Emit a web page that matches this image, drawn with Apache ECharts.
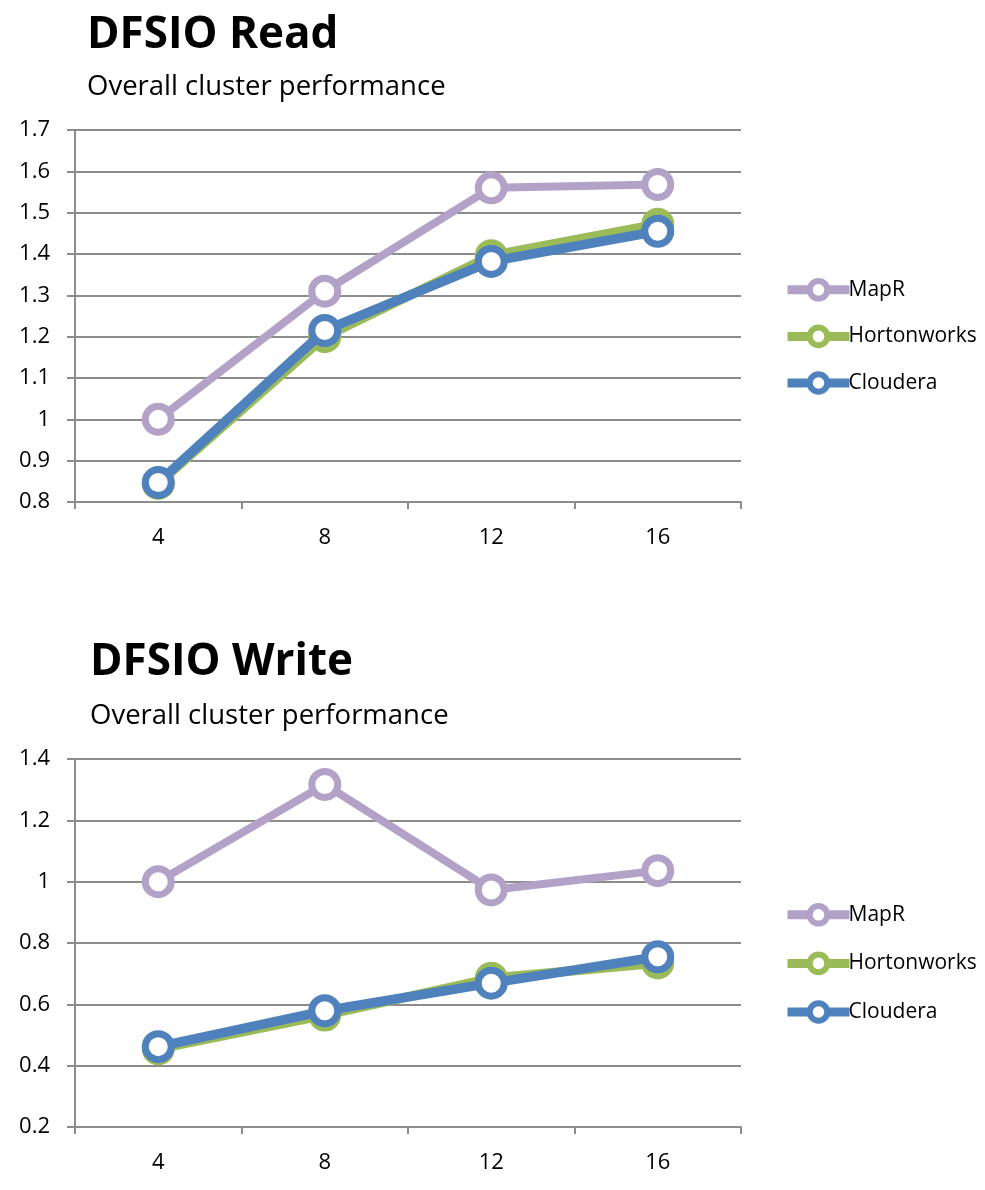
<!DOCTYPE html>
<html>
<head>
<meta charset="utf-8">
<script src="https://cdn.jsdelivr.net/npm/echarts@6/dist/echarts.min.js"></script>
<style>
html,body{margin:0;padding:0;background:#fff;}
#main{width:985px;height:1190px;}
</style>
</head>
<body>
<div id="main"></div>
<script>
var categories = ['4', '8', '12', '16'];
var seriesNames = ['MapR', 'Hortonworks', 'Cloudera'];

var readMapR = [1.0, 1.31, 1.56, 1.568];
var readHortonworks = [0.845, 1.2, 1.396, 1.472];
var readCloudera = [0.847, 1.215, 1.382, 1.455];

var writeMapR = [1.0, 1.317, 0.973, 1.036];
var writeHortonworks = [0.455, 0.565, 0.685, 0.735];
var writeCloudera = [0.462, 0.579, 0.669, 0.755];

var readTicks = {min: 0.8, max: 1.7, interval: 0.1};
var writeTicks = {min: 0.2, max: 1.4, interval: 0.2};

var colors = {MapR: '#B3A2C7', Hortonworks: '#9BBB59', Cloudera: '#4F81BD'};
var FONT = 'Open Sans';

function mkSeries(name, data, idx) {
  return {
    name: name, type: 'line', data: data,
    xAxisIndex: idx, yAxisIndex: idx,
    symbol: 'circle', symbolSize: 26,
    lineStyle: {color: colors[name], width: name === 'MapR' ? 8 : 9.5},
    itemStyle: {color: '#fff', borderColor: colors[name], borderWidth: 7},
    emphasis: {disabled: true},
    animation: false,
    z: name === 'Cloudera' ? 4 : (name === 'Hortonworks' ? 3 : 2)
  };
}

function mkX(idx) {
  return {
    type: 'category', gridIndex: idx, data: categories, boundaryGap: true,
    axisLine: {lineStyle: {color: '#8c8c8c', width: 2}},
    axisTick: {show: true, length: 7, interval: 0, lineStyle: {color: '#8c8c8c', width: 2}},
    axisLabel: {color: '#000', fontSize: 22, fontFamily: FONT, margin: 25},
    splitLine: {show: false}
  };
}
function mkY(idx, t) {
  return {
    type: 'value', gridIndex: idx, min: t.min, max: t.max, interval: t.interval,
    axisLine: {show: true, lineStyle: {color: '#8c8c8c', width: 2}},
    axisTick: {show: true, length: 8, lineStyle: {color: '#8c8c8c', width: 2}},
    axisLabel: {color: '#000', fontSize: 22, fontFamily: FONT, margin: 25,
      formatter: function (v) { return String(Math.round(v * 10) / 10); }},
    splitLine: {show: true, lineStyle: {color: '#8c8c8c', width: 2}}
  };
}
function mkLegend(top, gap) {
  return {
    data: seriesNames, orient: 'vertical', left: 778, top: top,
    itemWidth: 62, itemHeight: 22, itemGap: gap,
    lineStyle: {width: 9},
    itemStyle: {borderWidth: 6},
    textStyle: {fontFamily: FONT, fontSize: 21, color: '#000', padding: [0, 0, 0, -6]},
    selectedMode: false
  };
}

var chart = echarts.init(document.getElementById('main'), null, {renderer: 'canvas'});
chart.setOption({
  backgroundColor: '#fff',
  animation: false,
  title: [
    {text: 'DFSIO Read', left: 82, top: 8, textStyle: {fontFamily: FONT, fontWeight: 'bold', fontSize: 44, color: '#000'}},
    {text: 'Overall cluster performance', left: 82, top: 68, textStyle: {fontFamily: FONT, fontWeight: 'normal', fontSize: 27.5, color: '#000'}},
    {text: 'DFSIO Write', left: 85, top: 635, textStyle: {fontFamily: FONT, fontWeight: 'bold', fontSize: 44, color: '#000'}},
    {text: 'Overall cluster performance', left: 85, top: 697, textStyle: {fontFamily: FONT, fontWeight: 'normal', fontSize: 27.5, color: '#000'}}
  ],
  legend: [mkLegend(273, 23), mkLegend(898, 25)],
  grid: [
    {left: 75, top: 130, width: 666, height: 372},
    {left: 75, top: 759, width: 666, height: 368}
  ],
  xAxis: [mkX(0), mkX(1)],
  yAxis: [mkY(0, readTicks), mkY(1, writeTicks)],
  series: [
    mkSeries('MapR', readMapR, 0),
    mkSeries('Hortonworks', readHortonworks, 0),
    mkSeries('Cloudera', readCloudera, 0),
    mkSeries('MapR', writeMapR, 1),
    mkSeries('Hortonworks', writeHortonworks, 1),
    mkSeries('Cloudera', writeCloudera, 1)
  ]
});
</script>
</body>
</html>
